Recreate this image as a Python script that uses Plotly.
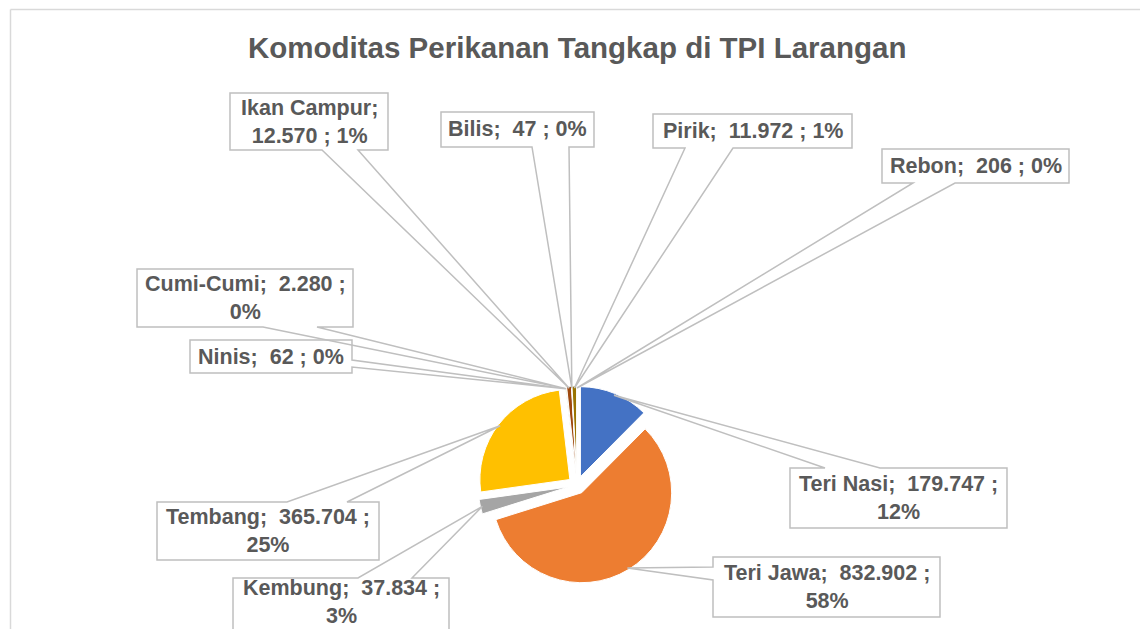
import math
import plotly.graph_objects as go

# ---------------- data ----------------
categories = ["Teri Nasi", "Teri Jawa", "Kembung", "Tembang", "Ninis",
              "Cumi-Cumi", "Ikan Campur", "Bilis", "Pirik", "Rebon"]
values = [179747, 832902, 37834, 365704, 62, 2280, 12570, 47, 11972, 206]
title_text = "Komoditas Perikanan Tangkap di TPI Larangan"

# ---------------- style / layout ----------------
colors = ["#4472C4", "#ED7D31", "#A5A5A5", "#FFC000", "#5B9BD5",
          "#70AD47", "#9E480E", "#264478", "#997300", "#636363"]
W, H = 1140, 629
CX, CY, R, PULL = 577, 485, 90, 0.1
FONT = "Arial, Liberation Sans, sans-serif"
TXT = "#595959"
LINE = "#BFBFBF"

# callout boxes in pixels: (x0, y0, x1, y1), wedge side, wedge base (a, b), wrap mode
# wrap: 0 = one line, 1 = break before percent, 2 = break after name
callouts = {
    "Teri Nasi":   ((790, 468, 1007, 528), "top",    (825, 880), 1),
    "Teri Jawa":   ((713, 557, 940, 617),  "left",   (567, 580), 1),
    "Kembung":     ((233, 578, 449, 640),  "top",    (358, 412), 1),
    "Tembang":     ((157, 502, 379, 560),  "top",    (287, 347), 1),
    "Ninis":       ((190, 340, 352, 373),  "right",  (360, 367), 0),
    "Cumi-Cumi":   ((137, 269, 353, 327),  "bottom", (263, 317), 1),
    "Ikan Campur": ((230, 93, 388, 150),   "bottom", (322, 358), 2),
    "Bilis":       ((441, 112, 594, 147),  "bottom", (532, 569), 0),
    "Pirik":       ((653, 114, 852, 148),  "bottom", (685, 733), 0),
    "Rebon":       ((882, 149, 1069, 183), "bottom", (913, 955), 0),
}

def px(x):
    return x / W

def py(y):
    return 1 - y / H

total = sum(values)
D = 2 * R * (1 + PULL)

fig = go.Figure(go.Pie(
    labels=categories, values=values, sort=False, direction="clockwise",
    rotation=0, pull=PULL, textinfo="none", hoverinfo="label+value+percent",
    marker=dict(colors=colors, line=dict(color="white", width=1)),
    domain=dict(x=[px(CX - D / 2), px(CX + D / 2)], y=[py(CY + D / 2), py(CY - D / 2)]),
    showlegend=False,
))

shapes = []
annotations = []

# frame (left and top edges visible)
shapes.append(dict(type="line", xref="paper", yref="paper", x0=px(10.5), y0=py(9.5),
                   x1=px(10.5), y1=py(640), line=dict(color="#D9D9D9", width=1.5)))
shapes.append(dict(type="line", xref="paper", yref="paper", x0=px(10.5), y0=py(9.5),
                   x1=px(1150), y1=py(9.5), line=dict(color="#D9D9D9", width=1.5)))

cum = 0
for cat, v in zip(categories, values):
    theta = math.radians(360 * (cum + v / 2) / total)
    cum += v
    rr = R * (1 + PULL) - 2
    ax = CX + rr * math.sin(theta)
    ay = CY - rr * math.cos(theta)
    (x0, y0, x1, y1), side, (a, b), wrap = callouts[cat]
    if side == "top":
        pts = [(x0, y0), (a, y0), (ax, ay), (b, y0), (x1, y0), (x1, y1), (x0, y1)]
    elif side == "bottom":
        pts = [(x0, y0), (x1, y0), (x1, y1), (b, y1), (ax, ay), (a, y1), (x0, y1)]
    elif side == "left":
        pts = [(x0, y0), (x1, y0), (x1, y1), (x0, y1), (x0, b), (ax, ay), (x0, a)]
    else:
        pts = [(x0, y0), (x1, y0), (x1, a), (ax, ay), (x1, b), (x1, y1), (x0, y1)]
    path = "M " + " L ".join(f"{px(x):.5f},{py(y):.5f}" for x, y in pts) + " Z"
    shapes.append(dict(type="path", xref="paper", yref="paper", path=path,
                       line=dict(color=LINE, width=1.5), fillcolor="rgba(0,0,0,0)",
                       layer="above"))
    vtxt = f"{v:,}".replace(",", ".")
    pct = f"{round(v / total * 100)}%"
    if wrap == 0:
        text = f"{cat};\u00a0 {vtxt} ; {pct}"
    elif wrap == 1:
        text = f"{cat};\u00a0 {vtxt} ;<br>{pct}"
    else:
        text = f"{cat};<br>{vtxt} ; {pct}"
    annotations.append(dict(text=text, xref="paper", yref="paper",
                            x=px((x0 + x1) / 2), y=py((y0 + min(y1, 626)) / 2),
                            xanchor="center", yanchor="middle", showarrow=False,
                            align="center",
                            font=dict(family=FONT, size=21.5, color=TXT, weight="bold")))

annotations.append(dict(text=title_text, xref="paper", yref="paper",
                        x=px(576.5), y=py(48), xanchor="center", yanchor="middle",
                        showarrow=False,
                        font=dict(family=FONT, size=29.5, color=TXT, weight="bold")))

fig.update_layout(width=W, height=H, margin=dict(l=0, r=0, t=0, b=0),
                  paper_bgcolor="white", plot_bgcolor="white",
                  shapes=shapes, annotations=annotations)

fig.write_html("out.html")
